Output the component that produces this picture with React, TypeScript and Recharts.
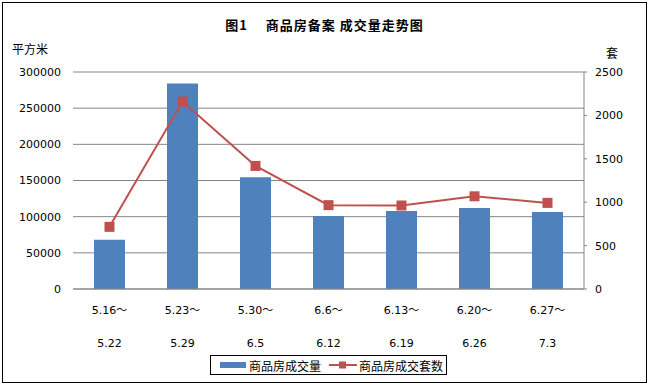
import React from 'react';
import { ComposedChart, Bar, Line, XAxis, YAxis, CartesianGrid } from 'recharts';

const categoriesStart = ['5.16～', '5.23～', '5.30～', '6.6～', '6.13～', '6.20～', '6.27～'];
const categoriesEnd = ['5.22', '5.29', '6.5', '6.12', '6.19', '6.26', '7.3'];
const areaValues = [68000, 284000, 154500, 101000, 108000, 112000, 106500];
const unitValues = [716, 2160, 1418, 966, 962, 1068, 992];
const leftTicks = [0, 50000, 100000, 150000, 200000, 250000, 300000];
const rightTicks = [0, 500, 1000, 1500, 2000, 2500];

const data = categoriesStart.map((s, i) => ({
  start: s,
  end: categoriesEnd[i],
  key: s + categoriesEnd[i],
  area: areaValues[i],
  units: unitValues[i],
}));

const FONT = '"DejaVu Sans", "Noto Sans CJK SC", sans-serif';
const CJK = '"Noto Sans CJK SC", sans-serif';
const BLUE = '#4F81BD';
const RED = '#C0504D';
const GRID = '#868686';

const XTick = (props: any) => {
  const { x, y, index } = props;
  const d = data[index];
  if (!d) return null;
  return (
    <g transform={`translate(${x},${y})`}>
      <text x={0} y={25} textAnchor="middle" fontSize={11} fontFamily={FONT} fill="#000">{d.start}</text>
      <text x={0} y={58} textAnchor="middle" fontSize={11} fontFamily={FONT} fill="#000">{d.end}</text>
    </g>
  );
};

const SquareDot = (props: any) => {
  const { cx, cy } = props;
  if (cx == null || cy == null) return null;
  return <rect x={cx - 5} y={cy - 5} width={10} height={10} fill={RED} stroke="none" />;
};

export default function App() {
  return (
    <div style={{ position: 'absolute', left: 0, top: 0, width: 649, height: 385, background: '#fff' }}>
      <div style={{ position: 'absolute', left: 2, top: 2, width: 643, height: 379, border: '1px solid #000' }} />
      <div style={{ position: 'absolute', left: 0, top: 17, width: 649, textAlign: 'center', fontFamily: CJK, fontWeight: 'bold', fontSize: 13, letterSpacing: 1, lineHeight: '16px', whiteSpace: 'pre' }}>
        {'图1　 商品房备案 成交量走势图'}
      </div>
      <div style={{ position: 'absolute', left: 12, top: 41, fontFamily: CJK, fontSize: 12, lineHeight: '16px' }}>平方米</div>
      <div style={{ position: 'absolute', left: 606, top: 45, fontFamily: CJK, fontSize: 12, lineHeight: '16px' }}>套</div>
      <ComposedChart
        width={649}
        height={385}
        data={data}
        margin={{ top: 72, right: 0, bottom: 0, left: 13 }}
        barCategoryGap={0}
      >
        <CartesianGrid vertical={false} stroke={GRID} strokeWidth={1} yAxisId="left" />
        <XAxis
          dataKey="key"
          height={96}
          tick={<XTick />}
          tickLine={false}
          tickSize={0}
          tickMargin={0}
          axisLine={{ stroke: GRID }}
          interval={0}
        />
        <YAxis
          yAxisId="left"
          orientation="left"
          width={60}
          domain={[0, 300000]}
          ticks={leftTicks}
          axisLine={false}
          tickLine={false}
          tickSize={0}
          tickMargin={12}
          tick={{ fontSize: 11, fontFamily: FONT, fill: '#000' }}
          interval={0}
        />
        <YAxis
          yAxisId="right"
          orientation="right"
          width={65}
          domain={[0, 2500]}
          ticks={rightTicks}
          axisLine={{ stroke: GRID }}
          tickLine={{ stroke: GRID }}
          tickSize={3}
          tickMargin={8}
          tick={{ fontSize: 11, fontFamily: FONT, fill: '#000', textAnchor: 'start' }}
          interval={0}
        />
        <Bar yAxisId="left" dataKey="area" fill={BLUE} barSize={31} isAnimationActive={false} />
        <Line
          yAxisId="right"
          dataKey="units"
          stroke={RED}
          strokeWidth={2}
          dot={<SquareDot />}
          activeDot={false}
          isAnimationActive={false}
        />
      </ComposedChart>
      <div style={{ position: 'absolute', left: 210, top: 355, width: 235, height: 18, border: '1px solid #000', display: 'flex', alignItems: 'center', fontFamily: CJK, fontSize: 12, boxSizing: 'content-box' }}>
        <div style={{ width: 26, height: 6, background: BLUE, marginLeft: 9, marginRight: 3 }} />
        <span>商品房成交量</span>
        <svg width={28} height={10} style={{ marginLeft: 8, marginRight: 2 }}>
          <line x1={0} y1={5} x2={28} y2={5} stroke={RED} strokeWidth={2} />
          <rect x={10} y={1.5} width={7} height={7} fill={RED} />
        </svg>
        <span>商品房成交套数</span>
      </div>
    </div>
  );
}
